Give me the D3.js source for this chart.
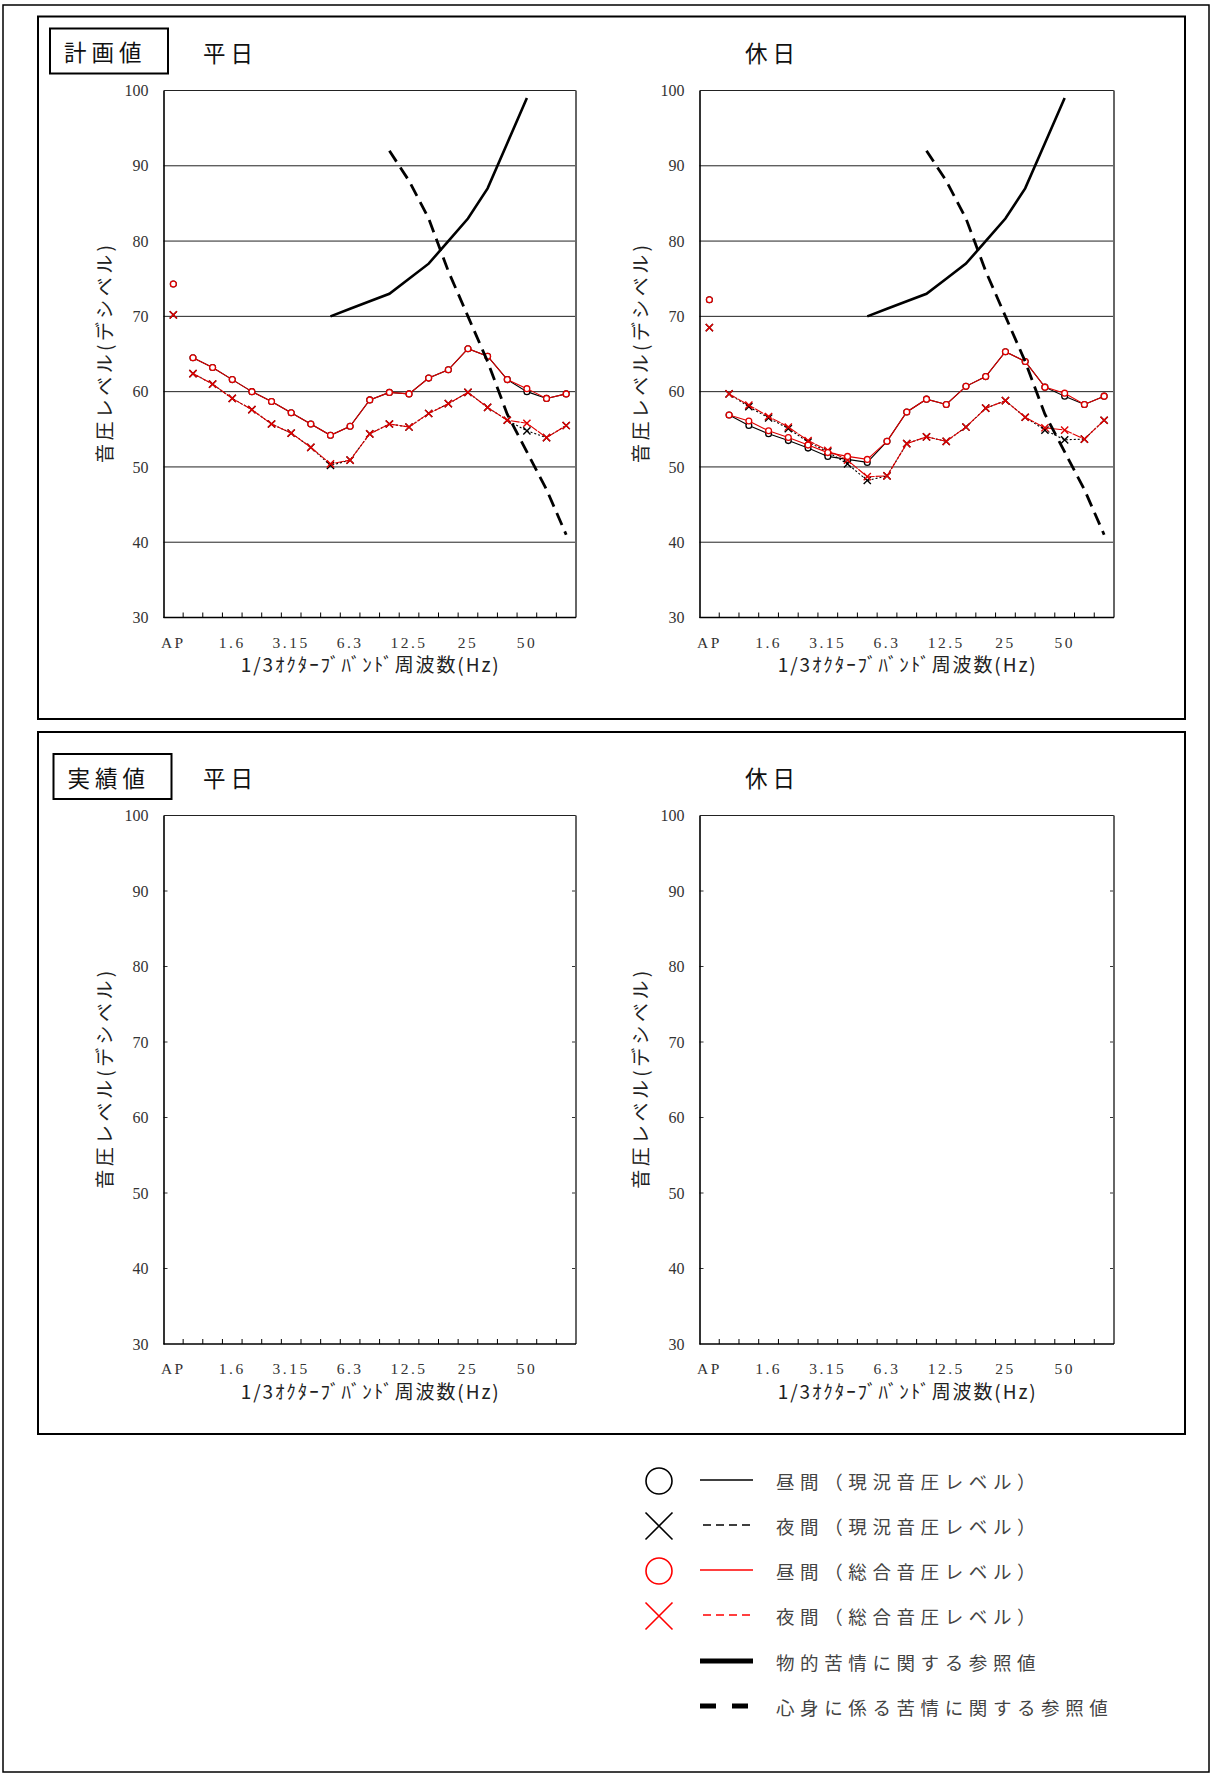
<!DOCTYPE html>
<html>
<head>
<meta charset="utf-8">
<script src="https://cdn.jsdelivr.net/npm/d3@7"></script>
<style>
  html, body { margin: 0; padding: 0; background: #fff; }
  svg { display: block; }
</style>
</head>
<body>
<svg id="chart" width="1213" height="1776"></svg>
<script>
// ---------------- DATA ----------------
const categories = ["AP","1","1.25","1.6","2","2.5","3.15","4","5","6.3","8","10","12.5","16","20","25","31.5","40","50","63","80"];
const tickLabels = ["AP","1.6","3.15","6.3","12.5","25","50"];
const yTicks = [30, 40, 50, 60, 70, 80, 90, 100];
const gridValues = [40, 50, 60, 70, 80, 90];

// 平日 (weekday)
const wdDayCurrent   = [74.3, 64.5, 63.2, 61.6, 60.0, 58.7, 57.2, 55.7, 54.2, 55.4, 58.9, 59.9, 59.7, 61.8, 62.9, 65.7, 64.7, 61.6, 60.0, 59.1, 59.7];
const wdDayTotal     = [74.3, 64.5, 63.2, 61.6, 60.0, 58.7, 57.2, 55.7, 54.2, 55.4, 58.9, 59.9, 59.7, 61.8, 62.9, 65.7, 64.7, 61.6, 60.4, 59.1, 59.7];
const wdNightCurrent = [70.2, 62.4, 61.0, 59.1, 57.6, 55.7, 54.5, 52.6, 50.2, 50.9, 54.4, 55.7, 55.3, 57.1, 58.4, 59.9, 57.9, 56.2, 54.8, 53.9, 55.5];
const wdNightTotal   = [70.2, 62.4, 61.0, 59.1, 57.6, 55.7, 54.5, 52.6, 50.4, 50.9, 54.4, 55.7, 55.3, 57.1, 58.4, 59.9, 57.9, 56.2, 55.8, 53.9, 55.5];

// 休日 (holiday)
const hdDayCurrent   = [72.2, 56.9, 55.5, 54.4, 53.5, 52.5, 51.4, 51.0, 50.6, 53.4, 57.3, 59.0, 58.3, 60.7, 62.0, 65.3, 64.0, 60.6, 59.4, 58.3, 59.4];
const hdDayTotal     = [72.2, 56.9, 56.1, 54.8, 53.9, 52.9, 51.9, 51.4, 51.0, 53.4, 57.3, 59.0, 58.3, 60.7, 62.0, 65.3, 64.0, 60.6, 59.8, 58.3, 59.4];
const hdNightCurrent = [68.5, 59.7, 58.0, 56.5, 55.1, 53.3, 52.0, 50.4, 48.2, 48.8, 53.1, 54.0, 53.4, 55.3, 57.8, 58.8, 56.6, 54.9, 53.6, 53.7, 56.2];
const hdNightTotal   = [68.5, 59.7, 58.2, 56.7, 55.3, 53.5, 52.2, 50.9, 48.7, 48.8, 53.1, 54.0, 53.4, 55.3, 57.8, 58.8, 56.6, 55.2, 54.9, 53.7, 56.2];

// 参照値 (reference values)
const physicalRef = [null, null, null, null, null, null, null, null, 70, 71, 72, 73, 75, 77, 80, 83, 87, 93, 99, null, null];
const mentalRef   = [null, null, null, null, null, null, null, null, null, null, null, 92, 88, 83, 76, 70, 64, 57, 52, 47, 41];

const legendLabels = [
  "昼間（現況音圧レベル）",
  "夜間（現況音圧レベル）",
  "昼間（総合音圧レベル）",
  "夜間（総合音圧レベル）",
  "物的苦情に関する参照値",
  "心身に係る苦情に関する参照値"
];

// ---------------- DRAWING ----------------
const svg = d3.select("#chart");
const JP = "'Noto Sans CJK JP', 'Noto Sans', sans-serif";
const NUM = "'Liberation Serif', 'DejaVu Serif', serif";

const styles = {
  dayCurrent:   { color: "#000", dash: null,  marker: "circle" },
  nightCurrent: { color: "#000", dash: "2,2", marker: "cross" },
  dayTotal:     { color: "#e00000", dash: null,  marker: "circle" },
  nightTotal:   { color: "#e00000", dash: "9,1", marker: "cross" }
};

// outer frame
svg.append("rect").attr("x", 3).attr("y", 5).attr("width", 1206).attr("height", 1767)
  .attr("fill", "none").attr("stroke", "#000").attr("stroke-width", 1.5);

// panels
function panel(y, h, label, labelBox) {
  svg.append("rect").attr("x", 38).attr("y", y).attr("width", 1147).attr("height", h)
    .attr("fill", "none").attr("stroke", "#000").attr("stroke-width", 2);
  svg.append("rect").attr("x", labelBox[0]).attr("y", labelBox[1]).attr("width", labelBox[2]).attr("height", labelBox[3])
    .attr("fill", "none").attr("stroke", "#000").attr("stroke-width", 2);
  svg.append("text").attr("x", labelBox[0] + 14).attr("y", labelBox[1] + labelBox[3] / 2)
    .attr("dominant-baseline", "central")
    .attr("font-family", JP).attr("font-size", 22.5).attr("letter-spacing", 5)
    .attr("fill", "#111").text(label);
}
panel(16.5, 702.5, "計画値", [50, 28.5, 118, 45]);
panel(732, 702, "実績値", [53.5, 754, 118, 45]);

function drawChart(cfg) {
  const g = svg.append("g");
  const x = d3.scaleBand().domain(categories).range([cfg.left, cfg.right]).paddingInner(0).paddingOuter(0);
  const y = d3.scaleLinear().domain([30, 100]).range([cfg.bottom, cfg.top]);
  const cx = c => x(c) + x.bandwidth() / 2;

  // title
  g.append("text").attr("x", cfg.titleX).attr("y", cfg.titleY)
    .attr("dominant-baseline", "central")
    .attr("font-family", JP).attr("font-size", 22.5).attr("letter-spacing", 5)
    .attr("fill", "#111").text(cfg.title);

  // gridlines
  if (cfg.grid) {
    g.selectAll("line.grid").data(gridValues).enter().append("line")
      .attr("x1", cfg.left).attr("x2", cfg.right)
      .attr("y1", d => y(d)).attr("y2", d => y(d))
      .attr("stroke", "#222").attr("stroke-width", 1);
  } else {
    g.selectAll("line.ltick").data(gridValues).enter().append("line")
      .attr("x1", cfg.left).attr("x2", cfg.left + 4)
      .attr("y1", d => y(d)).attr("y2", d => y(d))
      .attr("stroke", "#333").attr("stroke-width", 1);
    g.selectAll("line.rtick").data(gridValues).enter().append("line")
      .attr("x1", cfg.right).attr("x2", cfg.right - 4)
      .attr("y1", d => y(d)).attr("y2", d => y(d))
      .attr("stroke", "#333").attr("stroke-width", 1);
  }

  // frame: top & right
  g.append("line").attr("x1", cfg.left).attr("x2", cfg.right).attr("y1", cfg.top).attr("y2", cfg.top)
    .attr("stroke", "#222").attr("stroke-width", 1);
  g.append("line").attr("x1", cfg.right).attr("x2", cfg.right).attr("y1", cfg.top).attr("y2", cfg.bottom)
    .attr("stroke", "#666").attr("stroke-width", 2);

  // y axis
  const yAxis = d3.axisLeft(y).tickValues(yTicks).tickSize(0).tickPadding(15).tickFormat(d3.format("d"));
  const ya = g.append("g").attr("transform", `translate(${cfg.left},0)`).call(yAxis);
  ya.select(".domain").attr("stroke", "#000").attr("stroke-width", 1.6);
  ya.selectAll("text").attr("font-family", NUM).attr("font-size", 16).attr("fill", "#333");

  // x axis: inward ticks at band boundaries
  const xa = g.append("g").attr("transform", `translate(0,${cfg.bottom})`);
  xa.append("line").attr("x1", cfg.left).attr("x2", cfg.right).attr("y1", 0).attr("y2", 0)
    .attr("stroke", "#000").attr("stroke-width", 1.6);
  xa.selectAll("line.xt").data(categories.slice(1)).enter().append("line")
    .attr("x1", d => x(d)).attr("x2", d => x(d)).attr("y1", 0).attr("y2", -5)
    .attr("stroke", "#000").attr("stroke-width", 1);
  const xAxis = d3.axisBottom(x).tickValues(tickLabels).tickSize(0).tickPadding(19);
  const xg = g.append("g").attr("transform", `translate(0,${cfg.bottom})`).call(xAxis);
  xg.select(".domain").remove();
  xg.selectAll("text").attr("font-family", NUM).attr("font-size", 15.5).attr("fill", "#333")
    .attr("letter-spacing", 2.5);

  // axis titles
  g.append("text").attr("x", (cfg.left + cfg.right) / 2).attr("y", cfg.bottom + 46)
    .attr("text-anchor", "middle").attr("dominant-baseline", "central")
    .attr("font-family", JP).attr("font-size", 19).attr("fill", "#222")
    .attr("textLength", 258).attr("lengthAdjust", "spacing")
    .text("1/3ｵｸﾀｰﾌﾞﾊﾞﾝﾄﾞ周波数(Hz)");
  const ymid = (cfg.top + cfg.bottom) / 2;
  g.append("text").attr("transform", `translate(${cfg.left - 60},${ymid}) rotate(-90)`)
    .attr("text-anchor", "middle").attr("dominant-baseline", "central")
    .attr("font-family", JP).attr("font-size", 19).attr("fill", "#222")
    .attr("textLength", 218).attr("lengthAdjust", "spacing")
    .text("音圧レベル(デシベル)");

  if (!cfg.series) return;

  // data series
  const line = d3.line().defined(d => d.v != null).x(d => cx(d.c)).y(d => y(d.v));
  function drawSeries(values, st) {
    const pts = categories.map((c, i) => ({ c, v: values[i] }));
    // AP (index 0) is an isolated point; connect bands only
    g.append("path").datum(pts.slice(1)).attr("d", line)
      .attr("fill", "none").attr("stroke", st.color).attr("stroke-width", 1.1)
      .attr("stroke-dasharray", st.dash);
    const mk = g.append("g");
    pts.forEach(p => {
      const px = cx(p.c), py = y(p.v);
      if (st.marker === "circle") {
        mk.append("circle").attr("cx", px).attr("cy", py).attr("r", 2.9)
          .attr("fill", "#fff").attr("stroke", st.color).attr("stroke-width", 1.3);
      } else {
        const s = 3.6;
        mk.append("path").attr("d", `M${px - s},${py - s}L${px + s},${py + s}M${px - s},${py + s}L${px + s},${py - s}`)
          .attr("stroke", st.color).attr("stroke-width", 1.4).attr("fill", "none");
      }
    });
  }
  drawSeries(cfg.series.nightCurrent, styles.nightCurrent);
  drawSeries(cfg.series.dayCurrent, styles.dayCurrent);
  drawSeries(cfg.series.nightTotal, styles.nightTotal);
  drawSeries(cfg.series.dayTotal, styles.dayTotal);

  // reference lines
  const refLine = d3.line().defined(d => d.v != null).x(d => cx(d.c)).y(d => y(d.v));
  g.append("path").datum(categories.map((c, i) => ({ c, v: physicalRef[i] })))
    .attr("d", refLine).attr("fill", "none").attr("stroke", "#000").attr("stroke-width", 2.6);
  g.append("path").datum(categories.map((c, i) => ({ c, v: mentalRef[i] })))
    .attr("d", refLine).attr("fill", "none").attr("stroke", "#000").attr("stroke-width", 2.8)
    .attr("stroke-dasharray", "13,7");
}

drawChart({ left: 163.5, right: 576, top: 90.5, bottom: 617.5, title: "平日", titleX: 203, titleY: 52, grid: true,
  series: { dayCurrent: wdDayCurrent, dayTotal: wdDayTotal, nightCurrent: wdNightCurrent, nightTotal: wdNightTotal } });
drawChart({ left: 699.5, right: 1114, top: 90.5, bottom: 617.5, title: "休日", titleX: 745, titleY: 52, grid: true,
  series: { dayCurrent: hdDayCurrent, dayTotal: hdDayTotal, nightCurrent: hdNightCurrent, nightTotal: hdNightTotal } });
drawChart({ left: 163.5, right: 576, top: 815.5, bottom: 1344, title: "平日", titleX: 203, titleY: 777, grid: false });
drawChart({ left: 699.5, right: 1114, top: 815.5, bottom: 1344, title: "休日", titleX: 745, titleY: 777, grid: false });

// ---------------- LEGEND ----------------
const legendRows = [1481, 1526, 1571, 1616, 1662, 1707];
const legendItems = [
  { marker: "circle", color: "#000", dash: null, width: 1.5 },
  { marker: "cross",  color: "#000", dash: "8,5", width: 1.5 },
  { marker: "circle", color: "#ff0000", dash: null, width: 1.5 },
  { marker: "cross",  color: "#ff0000", dash: "8,5", width: 1.5 },
  { marker: null,     color: "#000", dash: null, width: 5 },
  { marker: null,     color: "#000", dash: "16,16", width: 5 }
];
const lg = svg.append("g");
legendItems.forEach((it, i) => {
  const yy = legendRows[i];
  if (it.marker === "circle") {
    lg.append("circle").attr("cx", 659).attr("cy", yy).attr("r", 13)
      .attr("fill", "none").attr("stroke", it.color).attr("stroke-width", 1.6);
  } else if (it.marker === "cross") {
    const s = 13.5;
    lg.append("path").attr("d", `M${659 - s},${yy - s}L${659 + s},${yy + s}M${659 - s},${yy + s}L${659 + s},${yy - s}`)
      .attr("stroke", it.color).attr("stroke-width", 1.6).attr("fill", "none");
  }
  const lx0 = it.dash === "8,5" ? 703 : 700;
  lg.append("line").attr("x1", lx0).attr("x2", 753).attr("y1", yy - 1).attr("y2", yy - 1)
    .attr("stroke", it.color).attr("stroke-width", it.width).attr("stroke-dasharray", it.dash);
  lg.append("text").attr("x", 776).attr("y", yy).attr("dominant-baseline", "central")
    .attr("font-family", JP).attr("font-size", 18.5).attr("letter-spacing", 5.6)
    .attr("fill", "#444").text(legendLabels[i]);
});
</script>
</body>
</html>
